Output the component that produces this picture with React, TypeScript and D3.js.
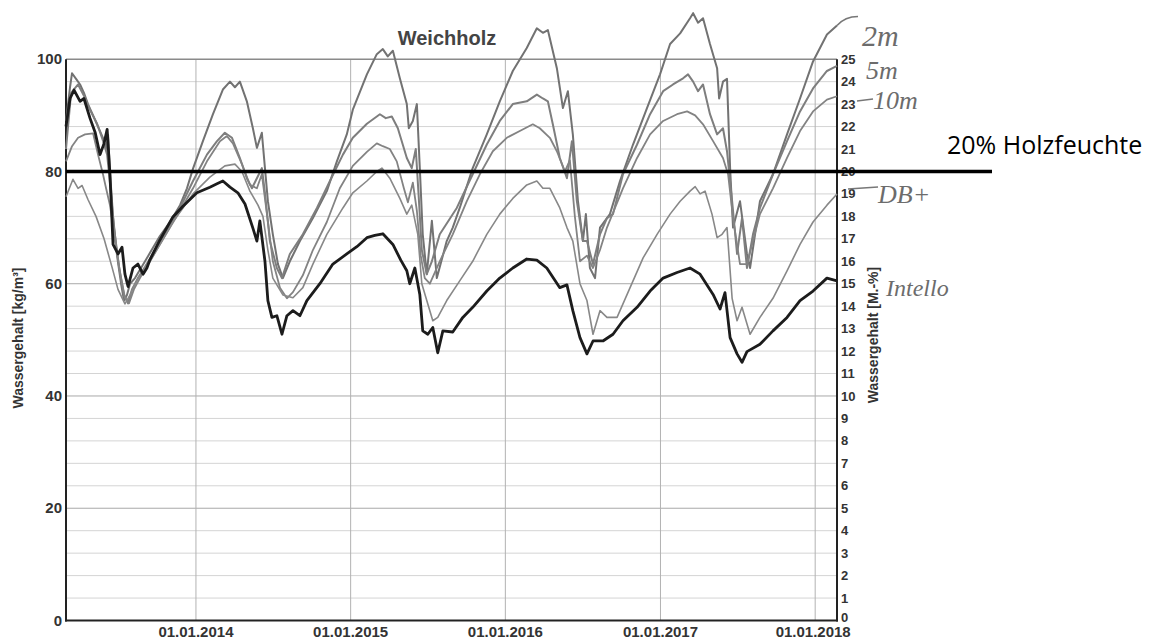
import * as d3 from "d3";

// time in decimal years, value in kg/m³
const zweiM: [number, number][] = [
  [2013.160, 89], [2013.186, 95], [2013.199, 97.5], [2013.225, 96.5], [2013.251, 95.5], [2013.276, 94],
  [2013.302, 92], [2013.335, 90], [2013.367, 88], [2013.399, 86], [2013.419, 84], [2013.432, 86.5],
  [2013.444, 80], [2013.464, 72], [2013.490, 65], [2013.516, 60], [2013.535, 57], [2013.554, 58],
  [2013.574, 60], [2013.606, 61], [2013.638, 62.5], [2013.671, 64], [2013.703, 65.5], [2013.767, 68.5],
  [2013.832, 71], [2013.897, 74], [2013.942, 77], [2013.981, 80.5], [2014.045, 85.4], [2014.110, 90.2],
  [2014.174, 94.6], [2014.220, 96], [2014.252, 95], [2014.284, 96], [2014.329, 92.5], [2014.368, 87.7],
  [2014.394, 84.2], [2014.426, 86.9], [2014.446, 80.6], [2014.465, 74.7], [2014.497, 68.8], [2014.530, 63.5],
  [2014.562, 61], [2014.607, 64], [2014.672, 67.6], [2014.756, 71.7], [2014.846, 76.5], [2014.911, 81.8],
  [2014.975, 86.6], [2015.014, 91], [2015.105, 97.3], [2015.169, 100.9], [2015.208, 101.8], [2015.240, 100.5],
  [2015.273, 101.5], [2015.318, 96.6], [2015.363, 92], [2015.376, 87.7], [2015.402, 89], [2015.428, 92],
  [2015.447, 80.6], [2015.466, 68.8], [2015.492, 61.7], [2015.525, 71.2], [2015.557, 61], [2015.621, 67.6],
  [2015.660, 70], [2015.705, 73.5], [2015.789, 80.6], [2015.880, 86.6], [2015.964, 92.5], [2016.048, 97.9],
  [2016.138, 102], [2016.203, 105.5], [2016.242, 104.7], [2016.274, 105.2], [2016.332, 98.4], [2016.371, 91.3],
  [2016.403, 94.3], [2016.435, 86.6], [2016.468, 74.7], [2016.500, 67.6], [2016.519, 72.4], [2016.545, 62.8],
  [2016.578, 61], [2016.610, 70], [2016.674, 72.4], [2016.739, 78.3], [2016.823, 84.8], [2016.913, 91.3],
  [2016.997, 97.3], [2017.062, 102.7], [2017.127, 104.6], [2017.191, 107.3], [2017.211, 108.2], [2017.243, 106.5],
  [2017.275, 107.3], [2017.320, 102.7], [2017.366, 98.4], [2017.379, 93], [2017.404, 96], [2017.430, 96.5],
  [2017.450, 80.6], [2017.469, 70], [2017.514, 74.7], [2017.559, 65.3], [2017.579, 62.8], [2017.643, 74.7],
  [2017.727, 79.5], [2017.818, 86.6], [2017.902, 93], [2017.986, 99.6], [2018.076, 104.4], [2018.141, 106],
];

const fuenfM: [number, number][] = [
  [2013.160, 84], [2013.193, 94], [2013.238, 95.5], [2013.276, 93.5], [2013.315, 91], [2013.361, 88.5],
  [2013.399, 85.5], [2013.426, 83], [2013.444, 78], [2013.470, 70], [2013.503, 63], [2013.535, 58],
  [2013.561, 56.5], [2013.587, 59], [2013.625, 61], [2013.671, 63], [2013.703, 64.5], [2013.767, 67.5],
  [2013.832, 70.5], [2013.897, 73.5], [2013.981, 78.3], [2014.071, 83], [2014.136, 85.4], [2014.187, 86.9],
  [2014.233, 86], [2014.284, 82.4], [2014.329, 78.8], [2014.362, 77], [2014.394, 78.8], [2014.426, 80.6],
  [2014.446, 76.2], [2014.478, 67.6], [2014.523, 62.8], [2014.556, 61], [2014.607, 65.3], [2014.691, 68.8],
  [2014.782, 73.5], [2014.866, 78.3], [2014.950, 83], [2015.014, 86], [2015.105, 88.5], [2015.189, 90.2],
  [2015.227, 89.5], [2015.266, 89.8], [2015.305, 87.7], [2015.363, 82.4], [2015.395, 80.6], [2015.421, 84],
  [2015.441, 75], [2015.460, 66], [2015.492, 61.7], [2015.525, 64], [2015.576, 68.8], [2015.686, 73.5],
  [2015.789, 79.5], [2015.880, 84.8], [2015.964, 89], [2016.048, 92], [2016.138, 92.5], [2016.203, 93.7],
  [2016.242, 93], [2016.274, 92.5], [2016.306, 88.4], [2016.351, 82.4], [2016.397, 78.8], [2016.429, 85.4],
  [2016.461, 74.7], [2016.500, 67.6], [2016.526, 67.6], [2016.565, 63.5], [2016.610, 68.8], [2016.655, 71.7],
  [2016.694, 72.4], [2016.758, 79.5], [2016.849, 84.8], [2016.933, 90.2], [2017.017, 94.3], [2017.081, 95.5],
  [2017.146, 96.6], [2017.178, 97.3], [2017.211, 96], [2017.243, 94.3], [2017.275, 95.5], [2017.320, 90.2],
  [2017.366, 86.6], [2017.404, 87.7], [2017.430, 83.6], [2017.463, 74.7], [2017.495, 65.3], [2017.527, 71.7],
  [2017.559, 62.8], [2017.598, 68.8], [2017.643, 73.5], [2017.727, 79.5], [2017.818, 85.4], [2017.902, 90.7],
  [2017.986, 94.8], [2018.076, 97.9], [2018.141, 98.8],
];

const zehnM: [number, number][] = [
  [2013.160, 81.8], [2013.199, 84.5], [2013.238, 86], [2013.283, 86.6], [2013.335, 86.8], [2013.367, 83],
  [2013.399, 79.5], [2013.419, 77], [2013.444, 74], [2013.477, 68], [2013.509, 62], [2013.541, 57.5],
  [2013.567, 56.5], [2013.599, 59], [2013.638, 61], [2013.703, 64], [2013.767, 67], [2013.832, 70],
  [2013.897, 73], [2013.981, 77], [2014.071, 81.8], [2014.155, 85.4], [2014.200, 86.3], [2014.239, 85],
  [2014.297, 81.3], [2014.349, 77.6], [2014.394, 77], [2014.426, 79.5], [2014.459, 72.4], [2014.497, 64],
  [2014.543, 59.3], [2014.588, 57.4], [2014.627, 58.5], [2014.691, 61.5], [2014.756, 66], [2014.846, 71],
  [2014.930, 77], [2015.014, 81], [2015.105, 83.5], [2015.169, 85], [2015.208, 84.5], [2015.253, 84],
  [2015.298, 81.8], [2015.344, 77], [2015.370, 74.5], [2015.402, 78], [2015.428, 73], [2015.453, 65],
  [2015.479, 61], [2015.512, 60], [2015.576, 64], [2015.660, 68.8], [2015.751, 74.7], [2015.835, 79.5],
  [2015.919, 83.6], [2016.009, 86], [2016.093, 87.2], [2016.177, 88.4], [2016.222, 87.7], [2016.287, 86],
  [2016.332, 83.6], [2016.384, 80], [2016.416, 82], [2016.448, 72], [2016.481, 64], [2016.526, 65],
  [2016.565, 62.8], [2016.610, 66], [2016.655, 70], [2016.758, 77], [2016.849, 82.4], [2016.933, 86.6],
  [2017.017, 89], [2017.107, 90.2], [2017.172, 90.7], [2017.224, 90], [2017.275, 88.4], [2017.340, 85.4],
  [2017.404, 82.4], [2017.437, 79.5], [2017.469, 71.7], [2017.514, 63.5], [2017.559, 63.5], [2017.598, 67.6],
  [2017.643, 72.4], [2017.727, 77], [2017.818, 82.4], [2017.902, 87.2], [2017.986, 90.7], [2018.076, 92.8],
  [2018.141, 93.4],
];

const dbPlus: [number, number][] = [
  [2013.160, 75.5], [2013.205, 78.6], [2013.238, 77], [2013.264, 77.5], [2013.302, 75], [2013.354, 72],
  [2013.406, 68], [2013.457, 63], [2013.496, 59], [2013.541, 56.4], [2013.574, 58], [2013.625, 61],
  [2013.703, 64], [2013.767, 67], [2013.851, 71], [2013.916, 73.5], [2013.981, 76], [2014.090, 79],
  [2014.187, 81], [2014.252, 81.3], [2014.297, 80], [2014.349, 76.5], [2014.401, 74], [2014.433, 72],
  [2014.465, 66], [2014.497, 61], [2014.562, 58], [2014.627, 57.5], [2014.691, 59.3], [2014.756, 63.5],
  [2014.846, 68.8], [2014.950, 73.5], [2015.014, 76.2], [2015.105, 78.3], [2015.169, 80], [2015.202, 80.6],
  [2015.253, 78.8], [2015.318, 75.2], [2015.363, 72.4], [2015.395, 74], [2015.434, 68.8], [2015.460, 60],
  [2015.492, 57], [2015.531, 53.4], [2015.563, 54], [2015.621, 57], [2015.705, 60.5], [2015.789, 64],
  [2015.880, 68.8], [2015.964, 72.4], [2016.048, 75.2], [2016.138, 77.6], [2016.203, 78.3], [2016.242, 77],
  [2016.287, 77], [2016.351, 73.5], [2016.397, 70], [2016.435, 67.6], [2016.481, 60], [2016.526, 57],
  [2016.565, 51], [2016.610, 55.2], [2016.655, 54], [2016.720, 54], [2016.804, 59.3], [2016.888, 64.6],
  [2016.978, 68.8], [2017.062, 72.4], [2017.127, 74.7], [2017.191, 76.5], [2017.224, 77.3], [2017.256, 76],
  [2017.288, 76.5], [2017.333, 72.4], [2017.366, 68.2], [2017.398, 68.8], [2017.430, 70], [2017.463, 57.4],
  [2017.495, 53.4], [2017.527, 55.8], [2017.579, 51], [2017.643, 54], [2017.727, 57.4], [2017.818, 62.3],
  [2017.902, 67], [2017.986, 71], [2018.076, 74], [2018.141, 76],
];

const intello: [number, number][] = [
  [2013.160, 88], [2013.186, 93], [2013.212, 94.5], [2013.251, 92.5], [2013.276, 93], [2013.315, 89.5],
  [2013.348, 87], [2013.380, 83], [2013.406, 85], [2013.426, 87.5], [2013.444, 79.5], [2013.464, 67],
  [2013.496, 65.3], [2013.522, 66.5], [2013.541, 61.7], [2013.561, 59.5], [2013.593, 62.8], [2013.625, 63.5],
  [2013.658, 61.7], [2013.683, 62.8], [2013.703, 64.3], [2013.767, 67.8], [2013.851, 71.9], [2013.916, 73.8],
  [2014.006, 76.2], [2014.090, 77.2], [2014.136, 77.8], [2014.174, 78.3], [2014.220, 77.2], [2014.271, 76.2],
  [2014.317, 74.2], [2014.368, 69.9], [2014.394, 67.6], [2014.413, 71.2], [2014.446, 64], [2014.465, 57],
  [2014.491, 54], [2014.523, 54.3], [2014.556, 51], [2014.588, 54.3], [2014.627, 55.2], [2014.672, 54.3],
  [2014.717, 57], [2014.801, 60], [2014.885, 63.5], [2014.975, 65.3], [2015.040, 66.6], [2015.105, 68.2],
  [2015.156, 68.6], [2015.208, 68.9], [2015.273, 67], [2015.324, 64.2], [2015.363, 62.3], [2015.382, 60],
  [2015.415, 62.8], [2015.447, 58.1], [2015.466, 51.6], [2015.499, 51], [2015.531, 52.2], [2015.563, 47.7],
  [2015.596, 51.6], [2015.660, 51.4], [2015.725, 54], [2015.789, 55.8], [2015.880, 58.7], [2015.964, 61],
  [2016.048, 62.8], [2016.138, 64.4], [2016.203, 64.2], [2016.267, 62.8], [2016.351, 59.3], [2016.397, 59.8],
  [2016.435, 55.2], [2016.481, 50.4], [2016.526, 47.5], [2016.565, 49.8], [2016.629, 49.8], [2016.694, 51],
  [2016.758, 53.4], [2016.849, 55.8], [2016.933, 58.7], [2017.017, 61], [2017.107, 62], [2017.191, 62.8],
  [2017.256, 61.7], [2017.340, 58.1], [2017.385, 55.5], [2017.417, 58.4], [2017.450, 50.4], [2017.495, 47.5],
  [2017.527, 46], [2017.559, 47.9], [2017.643, 49.2], [2017.727, 51.6], [2017.818, 54], [2017.902, 57],
  [2017.986, 58.7], [2018.076, 61], [2018.141, 60.5],
];

const yearTicks = [2014, 2015, 2016, 2017, 2018];
const leftTicks = [0, 20, 40, 60, 80, 100];
const rightTicks = [0, 1, 2, 3, 4, 5, 6, 7, 8, 9, 10, 11, 12, 13, 14, 15, 16, 17, 18, 19, 20, 21, 22, 23, 24, 25];
const threshold = 80; // 20 M.-% = 80 kg/m³

const toDate = (t: number) => {
  const y = Math.floor(t);
  const a = Date.UTC(y, 0, 1);
  const b = Date.UTC(y + 1, 0, 1);
  return new Date(a + (t - y) * (b - a));
};

const W = 1162, H = 639;
const x = d3.scaleUtc().domain([toDate(2013.16), toDate(2018.141)]).range([66, 837]);
const y = d3.scaleLinear().domain([0, 100]).range([620.5, 59.2]);
const yRight = d3.scaleLinear().domain([0, 25]).range([620.5, 59.2]);

const line = d3.line<[number, number]>()
  .x(d => x(toDate(d[0])))
  .y(d => y(d[1]));

const series = [
  {name: "2m", data: zweiM, color: "#727272", width: 2},
  {name: "5m", data: fuenfM, color: "#7e7e7e", width: 2},
  {name: "10m", data: zehnM, color: "#838383", width: 1.8},
  {name: "DB+", data: dbPlus, color: "#888", width: 1.6},
  {name: "Intello", data: intello, color: "#1c1c1c", width: 2.8},
];

const axisFont = "'Liberation Sans', Arial, sans-serif";
const narrowFont = "'Liberation Sans Narrow', 'Liberation Sans', Arial, sans-serif";
const handFont = "'Liberation Serif', 'DejaVu Serif', serif";

export default function App() {
  const [x0, x1] = x.range();
  const minorGrid = d3.range(4, 100, 4);
  const last2m = zweiM[zweiM.length - 1];
  const ex = x(toDate(last2m[0])), ey = y(last2m[1]);

  return (
    <svg width={W} height={H} style={{position: "absolute", left: 0, top: 0}}>
      <rect width={W} height={H} fill="#fff"/>

      {/* grid */}
      {minorGrid.map(v => (
        <line key={"h" + v} x1={x0} x2={x1} y1={y(v)} y2={y(v)}
              stroke={v % 20 === 0 ? "#a9a9a9" : "#d4d4d4"} strokeWidth={1}/>
      ))}
      {yearTicks.map(yr => (
        <line key={"v" + yr} x1={x(toDate(yr))} x2={x(toDate(yr))} y1={y(0)} y2={y(100)}
              stroke="#b2b2b2" strokeWidth={1}/>
      ))}
      <line x1={x0} x2={x1} y1={y(100)} y2={y(100)} stroke="#8a8a8a" strokeWidth={1.5}/>

      {/* axes */}
      <line x1={x0} x2={x0} y1={y(0) + 1} y2={y(100)} stroke="#222" strokeWidth={2}/>
      <line x1={x1} x2={x1} y1={y(0) + 1} y2={y(100)} stroke="#222" strokeWidth={2}/>
      <line x1={x0 - 1} x2={x1 + 1} y1={y(0)} y2={y(0)} stroke="#222" strokeWidth={2}/>

      {leftTicks.map(v => (
        <text key={"l" + v} x={62} y={y(v)} dy="0.35em" textAnchor="end"
              fontFamily={axisFont} fontWeight="bold" fontSize={15} fill="#333">{v}</text>
      ))}
      {rightTicks.map(v => (
        <text key={"r" + v} x={841} y={yRight(v) - (v === 0 ? 3 : 0)} dy="0.35em" textAnchor="start"
              fontFamily={narrowFont} fontWeight="bold" fontSize={13} fill="#333">{v}</text>
      ))}
      {yearTicks.map(yr => (
        <text key={"t" + yr} x={x(toDate(yr)) - (yr === 2018 ? 2 : 0)} y={637} textAnchor="middle"
              fontFamily={axisFont} fontWeight="bold" fontSize={15} fill="#333">{`01.01.${yr}`}</text>
      ))}

      <text transform="translate(23,338) rotate(-90)" textAnchor="middle" fontFamily={narrowFont}
            fontWeight="bold" fontSize={14} fill="#333">Wassergehalt [kg/m³]</text>
      <text transform="translate(878,335) rotate(-90)" textAnchor="middle" fontFamily={narrowFont}
            fontWeight="bold" fontSize={14} fill="#333">Wassergehalt [M.-%]</text>

      <text x={447} y={45} textAnchor="middle" fontFamily={axisFont} fontWeight="bold"
            fontSize={20} fill="#444">Weichholz</text>

      {/* series */}
      {series.map(s => (
        <path key={s.name} d={line(s.data) ?? ""} fill="none" stroke={s.color}
              strokeWidth={s.width} strokeLinejoin="round"/>
      ))}

      {/* hand-written annotations */}
      <path d={`M${ex},${ey} Q${ex + 8},${ey - 9} ${ex + 21},${ey - 9}`} fill="none" stroke="#777" strokeWidth={1.6}/>
      <g fontFamily={handFont} fontStyle="italic" fill="#6c6c6c">
        <text x={862} y={46} fontSize={30}>2m</text>
        <text x={866} y={79} fontSize={26}>5m</text>
        <line x1={857} x2={873} y1={101} y2={99} stroke="#777" strokeWidth={1.5}/>
        <text x={873} y={109} fontSize={26}>10m</text>
        <line x1={848} x2={878} y1={189} y2={187} stroke="#777" strokeWidth={1.5}/>
        <text x={878} y={203} fontSize={26}>DB+</text>
        <text x={886} y={296} fontSize={24}>Intello</text>
      </g>

      {/* 20 % wood moisture */}
      <line x1={x0} x2={992} y1={y(threshold)} y2={y(threshold)} stroke="#000" strokeWidth={3.5}/>
      <text x={947} y={154} fontFamily="'Open Sans', sans-serif" fontSize={25} fill="#000">20% Holzfeuchte</text>
    </svg>
  );
}
